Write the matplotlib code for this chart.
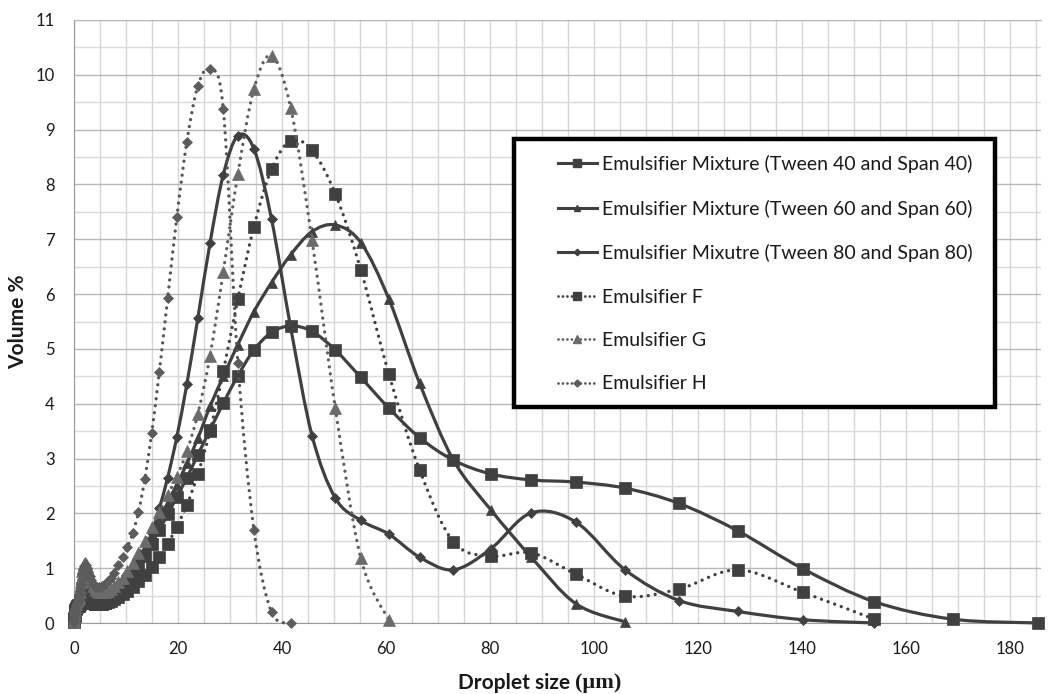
import numpy as np
import matplotlib
matplotlib.use("Agg")
import matplotlib.pyplot as plt
from matplotlib.path import Path
from matplotlib.patches import PathPatch, Rectangle
from matplotlib.lines import Line2D
from matplotlib.ticker import MultipleLocator

plt.rcParams['font.family'] = ['Lato', 'DejaVu Sans']

# channel sizes (um) of the particle size analyser
size_um = [0.042, 0.060, 0.088, 0.128, 0.186, 0.270, 0.392, 0.570, 0.828,
           0.909, 0.998, 1.096, 1.203, 1.321, 1.450, 1.592, 1.748, 1.919, 2.106,
           2.312, 2.538, 2.787, 3.059, 3.358, 3.687, 4.047, 4.443, 4.878, 5.355,
           5.878, 6.453, 7.085, 7.777, 8.538, 9.373, 10.29, 11.30, 12.40, 13.62,
           14.95, 16.41, 18.01, 19.77, 21.71, 23.83, 26.16, 28.72, 31.52, 34.61,
           37.99, 41.70, 45.78, 50.26, 55.17, 60.57, 66.49, 72.99, 80.13, 87.96,
           96.56, 106.0, 116.4, 127.7, 140.2, 153.9, 169.0, 185.5]

mix40 = [0.02, 0.05, 0.09, 0.14, 0.19, 0.24, 0.28, 0.31, 0.32,
         0.32, 0.33, 0.36, 0.41, 0.48, 0.56, 0.63, 0.68, 0.70, 0.69,
         0.65, 0.59, 0.52, 0.46, 0.41, 0.37, 0.35, 0.34, 0.34, 0.35,
         0.37, 0.40, 0.44, 0.49, 0.56, 0.65, 0.77, 0.90, 1.05, 1.23,
         1.45, 1.70, 1.98, 2.30, 2.65, 3.07, 3.52, 4.01, 4.51, 4.98,
         5.30, 5.42, 5.32, 4.98, 4.48, 3.92, 3.38, 2.97, 2.72, 2.61,
         2.57, 2.46, 2.18, 1.68, 0.99, 0.39, 0.07, 0.0]

mix60 = [0.02, 0.05, 0.10, 0.15, 0.20, 0.25, 0.30, 0.34, 0.36,
         0.37, 0.39, 0.43, 0.50, 0.58, 0.67, 0.76, 0.82, 0.85, 0.84,
         0.79, 0.71, 0.62, 0.54, 0.47, 0.42, 0.39, 0.38, 0.38, 0.39,
         0.41, 0.45, 0.50, 0.56, 0.63, 0.73, 0.85, 0.99, 1.16, 1.36,
         1.60, 1.88, 2.18, 2.52, 2.91, 3.37, 3.95, 4.50, 5.08, 5.68,
         6.21, 6.72, 7.14, 7.26, 6.94, 5.91, 4.37, 2.97, 2.07, 1.20,
         0.35, 0.02]

mix80 = [0.02, 0.05, 0.09, 0.14, 0.19, 0.24, 0.28, 0.31, 0.33,
         0.34, 0.36, 0.40, 0.46, 0.54, 0.63, 0.71, 0.77, 0.79, 0.78,
         0.73, 0.66, 0.58, 0.50, 0.44, 0.39, 0.36, 0.34, 0.33, 0.34,
         0.35, 0.38, 0.41, 0.46, 0.53, 0.62, 0.73, 0.88, 1.07, 1.32,
         1.65, 2.09, 2.65, 3.39, 4.36, 5.57, 6.93, 8.18, 8.89, 8.65,
         7.37, 5.38, 3.42, 2.28, 1.87, 1.62, 1.20, 0.97, 1.35, 2.01,
         1.84, 0.97, 0.41, 0.21, 0.06, 0.0]

emul_f = [0.02, 0.04, 0.08, 0.12, 0.17, 0.22, 0.26, 0.29, 0.31,
          0.31, 0.32, 0.34, 0.38, 0.44, 0.50, 0.56, 0.60, 0.62, 0.61,
          0.58, 0.53, 0.48, 0.43, 0.39, 0.36, 0.34, 0.34, 0.34, 0.35,
          0.36, 0.38, 0.40, 0.43, 0.47, 0.52, 0.58, 0.66, 0.76, 0.88,
          1.03, 1.21, 1.44, 1.76, 2.15, 2.72, 3.50, 4.59, 5.91, 7.23,
          8.28, 8.80, 8.62, 7.83, 6.44, 4.54, 2.79, 1.48, 1.22, 1.28,
          0.89, 0.49, 0.62, 0.97, 0.56, 0.07]

emul_g = [0.02, 0.06, 0.11, 0.17, 0.23, 0.29, 0.35, 0.40, 0.44,
          0.46, 0.50, 0.56, 0.64, 0.74, 0.84, 0.94, 1.02, 1.07, 1.09,
          1.07, 1.02, 0.94, 0.85, 0.76, 0.68, 0.62, 0.58, 0.56, 0.56,
          0.57, 0.59, 0.62, 0.67, 0.74, 0.83, 0.95, 1.10, 1.28, 1.50,
          1.75, 2.02, 2.34, 2.67, 3.13, 3.82, 4.87, 6.41, 8.19, 9.74,
          10.35, 9.39, 6.99, 3.92, 1.18, 0.05]

emul_h = [0.02, 0.05, 0.10, 0.16, 0.22, 0.28, 0.33, 0.37, 0.40,
          0.42, 0.46, 0.52, 0.60, 0.70, 0.80, 0.90, 0.98, 1.04, 1.06,
          1.05, 1.00, 0.93, 0.85, 0.78, 0.72, 0.68, 0.66, 0.66, 0.68,
          0.71, 0.76, 0.83, 0.92, 1.05, 1.21, 1.39, 1.64, 2.02, 2.63,
          3.47, 4.58, 5.92, 7.40, 8.78, 9.80, 10.10, 9.37, 4.74, 1.70,
          0.20, 0.0]

labels = ["Emulsifier Mixture (Tween 40 and Span 40)",
          "Emulsifier Mixture (Tween 60 and Span 60)",
          "Emulsifier Mixutre (Tween 80 and Span 80)",
          "Emulsifier F", "Emulsifier G", "Emulsifier H"]

dark = '#404040'
solid = '-'
dotted = (0, (0.01, 2.1))
# (values, marker, size, marker colour, line colour, line style)
styles = [
    (mix40, 's', 8, dark, dark, solid),
    (mix60, '^', 6.5, dark, dark, solid),
    (mix80, 'D', 5, dark, dark, solid),
    (emul_f, 's', 8, dark, dark, dotted),
    (emul_g, '^', 8.5, '#6b6b6b', '#5e5e5e', dotted),
    (emul_h, 'D', 5.5, '#5c5c5c', '#555555', dotted),
]


def smooth_path(x, y):
    # cubic bezier through the points, like a spreadsheet "smoothed line"
    pts = np.column_stack([x, y])
    n = len(pts)
    verts = [pts[0]]
    codes = [Path.MOVETO]
    for i in range(n - 1):
        p0 = pts[i - 1] if i > 0 else pts[i]
        p1 = pts[i]
        p2 = pts[i + 1]
        p3 = pts[i + 2] if i + 2 < n else pts[i + 1]
        verts += [p1 + (p2 - p0) / 6, p2 - (p3 - p1) / 6, p2]
        codes += [Path.CURVE4] * 3
    return Path(verts, codes)


W, H = 1052, 694
fig = plt.figure(figsize=(W / 100, H / 100), dpi=100)
x0, x1, ytop, ybot = 74, 1041, 20, 623
ax = fig.add_axes([x0 / W, 1 - ybot / H, (x1 - x0) / W, (ybot - ytop) / H])
ax.set_xlim(0, 186)
ax.set_ylim(0, 11)

ax.xaxis.set_major_locator(MultipleLocator(20))
ax.xaxis.set_minor_locator(MultipleLocator(5))
ax.yaxis.set_major_locator(MultipleLocator(1))
ax.yaxis.set_minor_locator(MultipleLocator(0.5))
ax.grid(which='both', axis='x', color='#d6d6d6', lw=1)
ax.grid(which='major', axis='y', color='#b8b8b8', lw=1)
ax.grid(which='minor', axis='y', color='#dadada', lw=1)
ax.set_axisbelow(True)
ax.tick_params(which='both', length=0)
ax.tick_params(axis='x', labelsize=12, pad=13, labelcolor='#1a1a1a')
ax.tick_params(axis='y', labelsize=12, pad=14, labelcolor='#1a1a1a')
ax.spines['right'].set_visible(False)
ax.spines['top'].set_color('#b8b8b8')
ax.spines['left'].set_color('#9a9a9a')
ax.spines['bottom'].set_color('#9a9a9a')

handles = []
for k, (vals, mk, ms, mcol, lcol, ls) in enumerate(styles):
    xs = size_um[:len(vals)]
    lw = 2.3 if ls == solid else 2.4
    patch = PathPatch(smooth_path(xs, vals), fill=False, edgecolor=lcol, lw=lw,
                      linestyle=ls, capstyle='round', joinstyle='round',
                      zorder=3 + 2 * k, clip_on=False)
    ax.add_patch(patch)
    ax.plot(xs, vals, linestyle='none', marker=mk, ms=ms, color=mcol,
            mec=mcol, mew=0.5, zorder=4 + 2 * k, clip_on=False)
    handles.append(Line2D([], [], color=lcol, lw=2.2 if ls == solid else 2.0,
                          linestyle=ls if ls == solid else (0, (0.01, 1.6)),
                          dash_capstyle='round', marker=mk,
                          ms=ms * 0.65, mfc=mcol, mec=mcol))

# axis titles
fig.text(18 / W, 1 - 322 / H, "Volume %", rotation=90, ha='center', va='center',
         fontsize=15, fontweight='bold', color='#1a1a1a')
t1 = fig.text(0, 1 - 683 / H, "Droplet size ", ha='left', va='center',
              fontsize=15, fontweight='bold', color='#1a1a1a')
t2 = fig.text(0, 1 - 683 / H, "(µm)", ha='left', va='center',
              fontsize=16, fontweight='bold', color='#1a1a1a',
              family=['Liberation Serif', 'DejaVu Serif'])
fig.canvas.draw()
r = fig.canvas.get_renderer()
w1 = t1.get_window_extent(r).width
w2 = t2.get_window_extent(r).width
left = 540 - (w1 + w2) / 2
t1.set_x(left / W)
t2.set_x((left + w1) / W)

leg = ax.legend(handles, labels, loc='upper left',
                bbox_to_anchor=(558 / W, 1 - 155 / H),
                bbox_transform=fig.transFigure, frameon=False, fontsize=14,
                borderpad=0, borderaxespad=0, handlelength=2.0,
                handletextpad=0.25, labelspacing=1.36)
for t in leg.get_texts():
    t.set_color('#1a1a1a')
leg.set_zorder(30)
frame = Rectangle((514 / W, 1 - 407 / H), (995 - 514) / W, (407 - 139) / H,
                  transform=fig.transFigure, facecolor='white', edgecolor='black',
                  lw=3.2, zorder=29, clip_on=False)
ax.add_patch(frame)

fig.savefig("out.png", dpi=100)
